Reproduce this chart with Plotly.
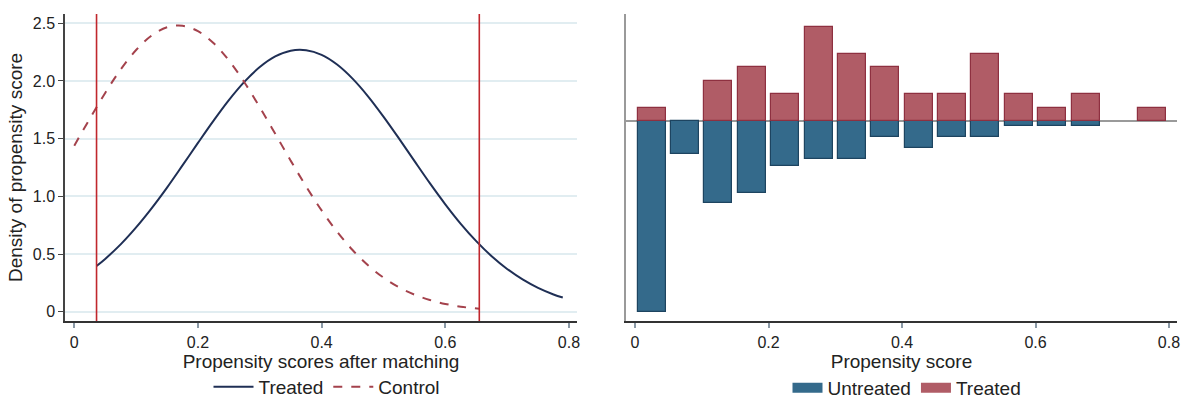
import plotly.graph_objects as go

# ---------------- Left panel: density curves ----------------
treated_x = [0.036, 0.05, 0.075, 0.1, 0.125, 0.15, 0.175, 0.2, 0.225, 0.25, 0.275, 0.3,
             0.325, 0.35, 0.375, 0.4, 0.425, 0.45, 0.475, 0.5, 0.525, 0.55, 0.575, 0.6,
             0.625, 0.65, 0.675, 0.7, 0.725, 0.75, 0.775, 0.79]
treated_y = [0.396, 0.458, 0.584, 0.731, 0.896, 1.076, 1.268, 1.463, 1.654, 1.834, 1.992, 2.120,
             2.212, 2.262, 2.266, 2.226, 2.142, 2.020, 1.867, 1.691, 1.502, 1.307, 1.114, 0.931,
             0.762, 0.612, 0.481, 0.371, 0.280, 0.207, 0.150, 0.123]
control_x = [0.0, 0.025, 0.05, 0.075, 0.1, 0.125, 0.15, 0.175, 0.2, 0.225, 0.25, 0.275,
             0.3, 0.325, 0.35, 0.375, 0.4, 0.425, 0.45, 0.475, 0.5, 0.525, 0.55, 0.575,
             0.6, 0.625, 0.655]
control_y = [1.439, 1.672, 1.896, 2.099, 2.268, 2.393, 2.465, 2.478, 2.431, 2.329, 2.178, 1.989,
             1.772, 1.542, 1.309, 1.085, 0.878, 0.694, 0.535, 0.403, 0.296, 0.212, 0.149, 0.102,
             0.068, 0.044, 0.026]
cutoffs = [0.036, 0.655]
left_xticks = [0, 0.2, 0.4, 0.6, 0.8]
left_xticklabels = ["0", "0.2", "0.4", "0.6", "0.8"]
left_yticks = [0, 0.5, 1.0, 1.5, 2.0, 2.5]
left_yticklabels = ["0", "0.5", "1.0", "1.5", "2.0", "2.5"]

# ---------------- Right panel: mirrored histogram ----------------
bin_centers = [0.025, 0.075, 0.125, 0.175, 0.225, 0.275, 0.325, 0.375, 0.425, 0.475,
               0.525, 0.575, 0.625, 0.675, 0.725, 0.775]
treated_counts = [1, None, 3, 4, 2, 7, 5, 4, 2, 2, 5, 2, 1, 2, None, 1]
untreated_counts = [-14.15, -2.44, -6.07, -5.3, -3.3, -2.8, -2.8, -1.2, -2.0, -1.2,
                    -1.2, -0.4, -0.4, -0.4, None, None]
right_xticks = [0, 0.2, 0.4, 0.6, 0.8]
right_xticklabels = ["0", "0.2", "0.4", "0.6", "0.8"]

FONT = "Liberation Sans, Arial, sans-serif"
W, H = 1185, 399
BLUE, BLUE_EDGE = "#346a8b", "#1d4460"
RED, RED_EDGE = "#b05c66", "#8e3040"

fig = go.Figure()

fig.add_trace(go.Scatter(x=treated_x, y=treated_y, mode="lines", name="Treated",
                         line=dict(color="#1f2f55", width=2, shape="spline"),
                         xaxis="x", yaxis="y", legend="legend"))
fig.add_trace(go.Scatter(x=control_x, y=control_y, mode="lines", name="Control",
                         line=dict(color="#a4424c", width=2, dash="dash", shape="spline"),
                         xaxis="x", yaxis="y", legend="legend"))

fig.add_trace(go.Bar(x=bin_centers, y=untreated_counts, name="Untreated", width=0.042,
                     marker=dict(color=BLUE, line=dict(color=BLUE_EDGE, width=1.2)),
                     xaxis="x2", yaxis="y2", showlegend=False))
fig.add_trace(go.Bar(x=bin_centers, y=treated_counts, name="Treated", width=0.042,
                     marker=dict(color=RED, line=dict(color=RED_EDGE, width=1.2)),
                     xaxis="x2", yaxis="y2", showlegend=False))
# legend entries for the histogram (wide swatches)
fig.add_trace(go.Scatter(x=[None], y=[None], mode="lines", name="Untreated",
                         line=dict(color=BLUE, width=14), xaxis="x2", yaxis="y2",
                         legend="legend2", hoverinfo="skip"))
fig.add_trace(go.Scatter(x=[None], y=[None], mode="lines", name="Treated",
                         line=dict(color=RED, width=14), xaxis="x2", yaxis="y2",
                         legend="legend2", hoverinfo="skip"))

for c in cutoffs:
    fig.add_shape(type="line", xref="x", yref="y domain", x0=c, x1=c, y0=0, y1=1,
                  line=dict(color="#c0272d", width=1.6))

ydom = [1 - 321 / H, 1 - 14 / H]
fig.update_layout(
    width=W, height=H,
    margin=dict(l=0, r=0, t=0, b=0, autoexpand=False),
    paper_bgcolor="white", plot_bgcolor="white",
    font=dict(family=FONT, size=16, color="#222"),
    barmode="relative",
    bargap=0,
    xaxis=dict(domain=[65 / W, 577 / W], range=[-0.015, 0.813],
               tickvals=left_xticks, ticktext=left_xticklabels,
               showline=True, linecolor="#333", linewidth=1.5,
               ticks="outside", ticklen=5, tickcolor="#8a99a6", tickwidth=2,
               ticklabelstandoff=1,
               showgrid=False, zeroline=False,
               title=dict(text="Propensity scores after matching", font=dict(size=19), standoff=1),
               anchor="y"),
    yaxis=dict(domain=ydom, range=[-0.08, 2.58],
               tickvals=left_yticks, ticktext=left_yticklabels,
               showline=True, linecolor="#444", linewidth=1.5,
               ticks="outside", ticklen=5, tickcolor="#444",
               showgrid=True, gridcolor="#e1edf1", gridwidth=1.5, zeroline=False,
               title=dict(text="Density of propensity score", font=dict(size=19), standoff=5),
               anchor="x"),
    xaxis2=dict(domain=[626 / W, 1177 / W], range=[-0.0135, 0.812],
                tickvals=right_xticks, ticktext=right_xticklabels,
                showline=True, linecolor="#333", linewidth=1.5,
                ticks="outside", ticklen=5, tickcolor="#8a99a6", tickwidth=2,
                ticklabelstandoff=1,
                showgrid=False, zeroline=False,
                title=dict(text="Propensity score", font=dict(size=19), standoff=1),
                anchor="y2"),
    yaxis2=dict(domain=ydom, range=[-14.81, 7.93],
                showticklabels=False, ticks="",
                showline=True, linecolor="#9a9a9a", linewidth=2,
                showgrid=False, zeroline=True, zerolinecolor="#9a9a9a", zerolinewidth=2,
                anchor="x2"),
    legend=dict(orientation="h", x=327 / W, xanchor="center", y=12 / H, yanchor="middle",
                font=dict(size=19), bgcolor="rgba(0,0,0,0)", itemwidth=40, traceorder="normal"),
    legend2=dict(orientation="h", x=907 / W, xanchor="center", y=11 / H, yanchor="middle",
                 font=dict(size=19), bgcolor="rgba(0,0,0,0)", traceorder="normal"),
)

fig.write_html("out.html", config={"displayModeBar": False},
               post_script="document.body.style.margin='0';document.body.style.overflow='hidden';")
